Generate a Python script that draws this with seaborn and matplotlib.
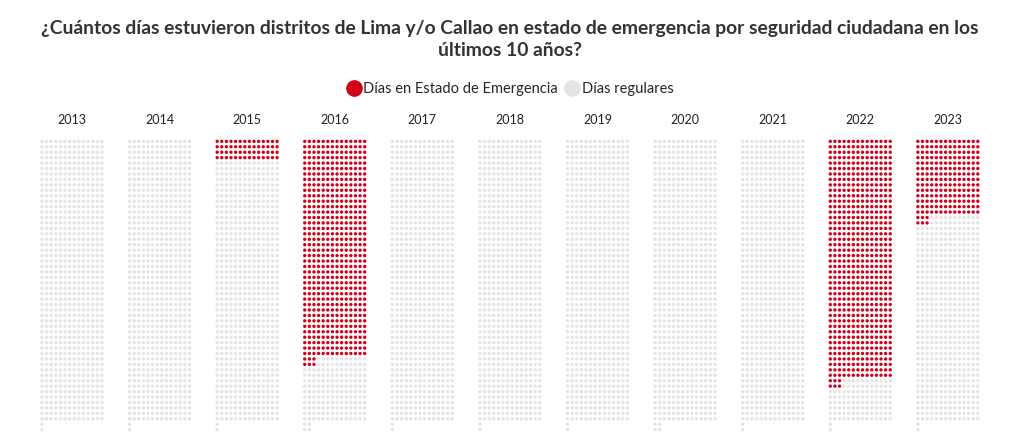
import matplotlib
matplotlib.use("Agg")
import matplotlib.pyplot as plt
import seaborn as sns
import pandas as pd
import numpy as np
from matplotlib.path import Path
from matplotlib.lines import Line2D

# Datos: días en estado de emergencia por año
years = [2013, 2014, 2015, 2016, 2017, 2018, 2019, 2020, 2021, 2022, 2023]
dias_totales = [365, 365, 365, 366, 365, 365, 365, 366, 365, 365, 365]
dias_emergencia = [0, 0, 28, 283, 0, 0, 0, 0, 0, 311, 101]

ROJO = '#d0021b'
GRIS = '#e4e4e4'
N_COL = 14      # puntos por fila
PASO = 19       # separación entre años (en unidades de columna)

# Armado del DataFrame largo: un registro por día
filas = []
for i, (anio, total, emerg) in enumerate(zip(years, dias_totales, dias_emergencia)):
    for d in range(total):
        filas.append({'anio': anio,
                      'x': i * PASO + d % N_COL,
                      'y': d // N_COL,
                      'estado': 'Días en Estado de Emergencia' if d < emerg else 'Días regulares'})
df = pd.DataFrame(filas)

sns.set_style('white')
plt.rcParams['font.family'] = ['Lato', 'DejaVu Sans']

fig = plt.figure(figsize=(10.2, 4.46), dpi=100)
ax = fig.add_axes([0.0389, 0.0305, 0.922, 0.6587])

# marcador: dos puntitos apilados (textura fina como la del original)
circ = Path.unit_circle()
arriba = Path(circ.vertices * 0.5 + np.array([0, 0.8]), circ.codes)
abajo = Path(circ.vertices * 0.5 - np.array([0, 0.8]), circ.codes)
marca = Path.make_compound_path(arriba, abajo)

sns.scatterplot(data=df, x='x', y='y', hue='estado',
                palette={'Días en Estado de Emergencia': ROJO, 'Días regulares': GRIS},
                marker=marca, s=40, linewidth=0, legend=False, ax=ax)

ax.set_xlim(-0.5, (len(years) - 1) * PASO + N_COL - 0.5)
ax.set_ylim(26.5, -0.5)
ax.set_xlabel('')
ax.set_ylabel('')
ax.set_yticks([])
ax.xaxis.tick_top()
ax.set_xticks([i * PASO + (N_COL - 1) / 2 for i in range(len(years))])
ax.set_xticklabels([str(a) for a in years], fontsize=9, color='#222222')
ax.tick_params(axis='x', length=0, pad=9)
for s in ax.spines.values():
    s.set_visible(False)

fig.suptitle('¿Cuántos días estuvieron distritos de Lima y/o Callao en estado de emergencia por seguridad ciudadana en los\núltimos 10 años?',
             fontsize=13.9, fontweight='bold', color='#333333', y=0.955, linespacing=1.32)

handles = [Line2D([], [], marker='o', linestyle='', markersize=11, color=ROJO),
           Line2D([], [], marker='o', linestyle='', markersize=11, color=GRIS)]
fig.legend(handles, ['Días en Estado de Emergencia', 'Días regulares'],
           loc='center', bbox_to_anchor=(0.5, 0.80), ncol=2, frameon=False,
           fontsize=10.5, handletextpad=0.15, columnspacing=0.5, handlelength=1.0)

fig.savefig('out.png', dpi=100)
